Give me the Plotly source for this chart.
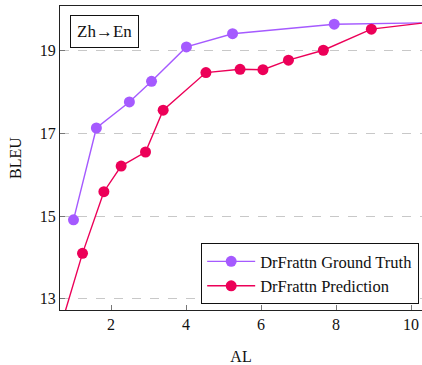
import plotly.graph_objects as go

gt_al = [1.0, 1.61, 2.49, 3.08, 4.01, 5.24, 7.95, 10.8]
gt_bleu = [14.91, 17.13, 17.76, 18.26, 19.09, 19.41, 19.64, 19.68]
pred_al = [0.55, 1.24, 1.81, 2.27, 2.92, 3.39, 4.53, 5.44, 6.05, 6.73, 7.66, 8.94, 10.8]
pred_bleu = [12.0, 14.10, 15.59, 16.21, 16.55, 17.56, 18.47, 18.55, 18.54, 18.77, 19.01, 19.52, 19.72]
x_ticks = [2, 4, 6, 8, 10]
y_ticks = [13, 15, 17, 19]

PURPLE = "#A55AFF"
RED = "#EC0058"
FONT = "Liberation Serif"

fig = go.Figure()
fig.add_trace(go.Scatter(x=gt_al, y=gt_bleu, mode="lines+markers", name="DrFrattn Ground Truth",
                         line=dict(color=PURPLE, width=1.4), marker=dict(color=PURPLE, size=11)))
fig.add_trace(go.Scatter(x=pred_al, y=pred_bleu, mode="lines+markers", name="DrFrattn Prediction",
                         line=dict(color=RED, width=1.4), marker=dict(color=RED, size=11)))

axis_common = dict(showline=True, linecolor="#222", linewidth=1, mirror=True,
                   ticks="inside", ticklen=5, tickcolor="#777", zeroline=False,
                   automargin=False,
                   tickfont=dict(family=FONT, size=16, color="#111"))

fig.update_xaxes(range=[0.64, 10.29], tickvals=x_ticks, showgrid=False,
                 title=dict(text="AL", font=dict(family=FONT, size=16, color="#111"), standoff=18),
                 **axis_common)
fig.update_yaxes(range=[12.73, 20.08], tickvals=y_ticks, showgrid=True, gridcolor="#c8c8c8",
                 griddash="dash", gridwidth=1,
                 title=dict(text="BLEU", font=dict(family=FONT, size=16, color="#111"), standoff=14),
                 **axis_common)

fig.add_annotation(xref="paper", yref="paper", x=0.028, y=0.97, xanchor="left", yanchor="top",
                   text="Zh→En", showarrow=False, font=dict(family=FONT, size=17, color="#111"),
                   bordercolor="#111", borderwidth=1, borderpad=6, bgcolor="white")

fig.update_layout(
    width=422, height=365,
    margin=dict(l=60, r=0, t=6, b=55),
    plot_bgcolor="white", paper_bgcolor="white",
    showlegend=True,
    legend=dict(x=0.39, y=0.22, xanchor="left", yanchor="top",
                bordercolor="#111", borderwidth=1, bgcolor="white",
                font=dict(family=FONT, size=16.5, color="#111"),
                itemwidth=48, tracegroupgap=0),
    font=dict(family=FONT),
)

fig.write_html("out.html", config={"displayModeBar": False},
               post_script="document.body.style.margin='0px';")
